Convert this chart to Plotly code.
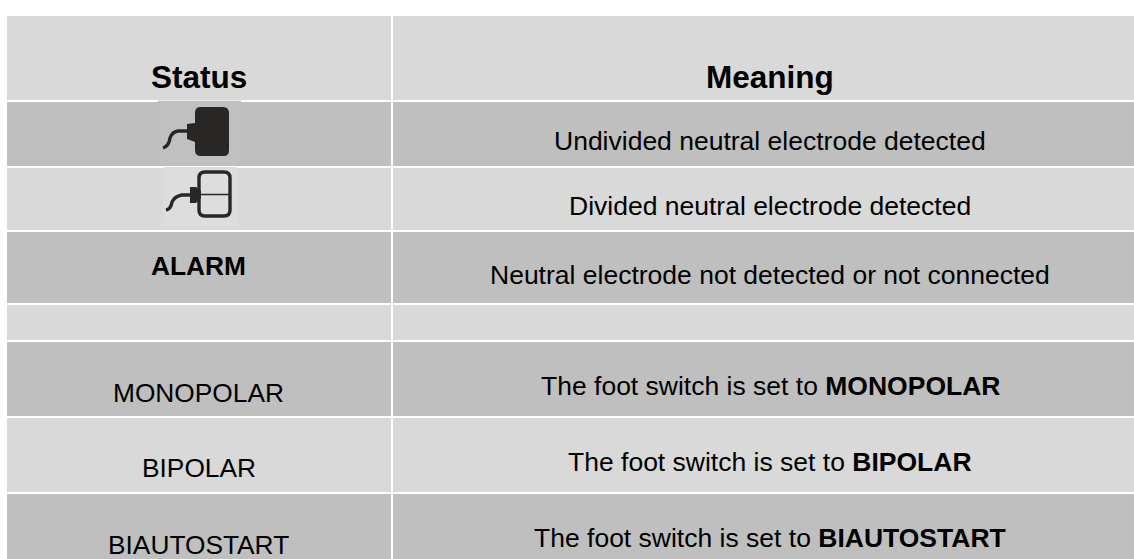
import plotly.graph_objects as go

# Table content
status_texts = ["<b>Status</b>", "", "", "<b>ALARM</b>", "", "MONOPOLAR", "BIPOLAR", "BIAUTOSTART"]
meaning_texts = [
    "<b>Meaning</b>",
    "Undivided neutral electrode detected",
    "Divided neutral electrode detected",
    "Neutral electrode not detected or not connected",
    "",
    "The foot switch is set to <b>MONOPOLAR</b>",
    "The foot switch is set to <b>BIPOLAR</b>",
    "The foot switch is set to <b>BIAUTOSTART</b>",
]

# Layout geometry (page pixels)
W, H = 1134, 559
col_edges = [(7, 391), (393, 1134)]
row_edges = [(16, 100), (102, 166), (168, 230), (232, 303), (305, 340), (342, 416), (418, 492), (494, 559)]
row_fill = ["#d9d9d9", "#bfbfbf", "#d9d9d9", "#bfbfbf", "#d9d9d9", "#bfbfbf", "#d9d9d9", "#bfbfbf"]
status_y = [76.5, None, None, 266, None, 392.5, 468, 544.5]
meaning_y = [77, 141, 206, 275, None, 385.5, 462, 537.5]
meaning_size = [31.5, 26.5, 26.5, 26.5, 26.5, 26.5, 26.5, 26.5]
status_size = [31.5, 26.3, 26.3, 26.3, 26.3, 26.3, 26.3, 26.3]

shapes = []
for (y0, y1), fill in zip(row_edges, row_fill):
    for x0, x1 in col_edges:
        shapes.append(dict(type="rect", x0=x0, x1=x1, y0=y0, y1=y1, fillcolor=fill, line_width=0, layer="below"))

# icon backgrounds
shapes.append(dict(type="rect", x0=158, x1=241, y0=101, y1=165, fillcolor="#c0c0c0", line_width=0))
shapes.append(dict(type="line", x0=158, x1=241, y0=100.5, y1=100.5, line=dict(color="#e8e8e8", width=1)))
shapes.append(dict(type="rect", x0=164, x1=237, y0=167, y1=226, fillcolor="#dddddd", line_width=0))

DARK = "#282725"
# undivided electrode icon
shapes.append(dict(type="path", fillcolor=DARK, line_width=0,
    path="M200 107 Q195 107 195 113 L195 123 L187 124 L187 139 L195 142 L195 150 Q195 156 201 156 "
         "L224 156 Q229 156 229 150 L229 113 Q229 107 223 107 Z"))
shapes.append(dict(type="path", line=dict(color=DARK, width=3.4),
    path="M188 131 L178 131 Q172 132 170 138 Q169 146 163 148"))
# divided electrode icon
shapes.append(dict(type="path", line=dict(color=DARK, width=3.4), fillcolor="rgba(0,0,0,0)",
    path="M205 172 L224 172 Q230 172 230 178 L230 210 Q230 216 224 216 L205 216 Q199 216 199 210 "
         "L199 178 Q199 172 205 172 Z"))
shapes.append(dict(type="line", x0=195, x1=230, y0=194.5, y1=194.5, line=dict(color=DARK, width=1.6)))
shapes.append(dict(type="path", fillcolor=DARK, line_width=0,
    path="M190 187 L196 187 L201 191 L201 198 L196 203 L190 203 Z"))
shapes.append(dict(type="path", line=dict(color=DARK, width=3.4),
    path="M191 195 L182 195 Q175 196 172 202 Q171 209 166 210"))

annotations = []
FONT = "Liberation Sans, Arial, sans-serif"
for i, t in enumerate(status_texts):
    if t:
        annotations.append(dict(x=198.5, y=status_y[i], text=t, showarrow=False, xanchor="center", yanchor="middle",
                                font=dict(family=FONT, size=status_size[i], color="#000000")))
for i, t in enumerate(meaning_texts):
    if t:
        annotations.append(dict(x=770, y=meaning_y[i], text=t, showarrow=False, xanchor="center", yanchor="middle",
                                font=dict(family=FONT, size=meaning_size[i], color="#000000")))

fig = go.Figure()
fig.update_layout(
    width=W, height=H, margin=dict(l=0, r=0, t=0, b=0),
    paper_bgcolor="#ffffff", plot_bgcolor="#ffffff", showlegend=False,
    xaxis=dict(range=[0, W], visible=False, fixedrange=True),
    yaxis=dict(range=[H, 0], visible=False, fixedrange=True),
    shapes=shapes, annotations=annotations,
)
fig.write_html("out.html", config=dict(displayModeBar=False),
               post_script="document.body.style.margin='0';document.body.style.overflow='hidden';")
